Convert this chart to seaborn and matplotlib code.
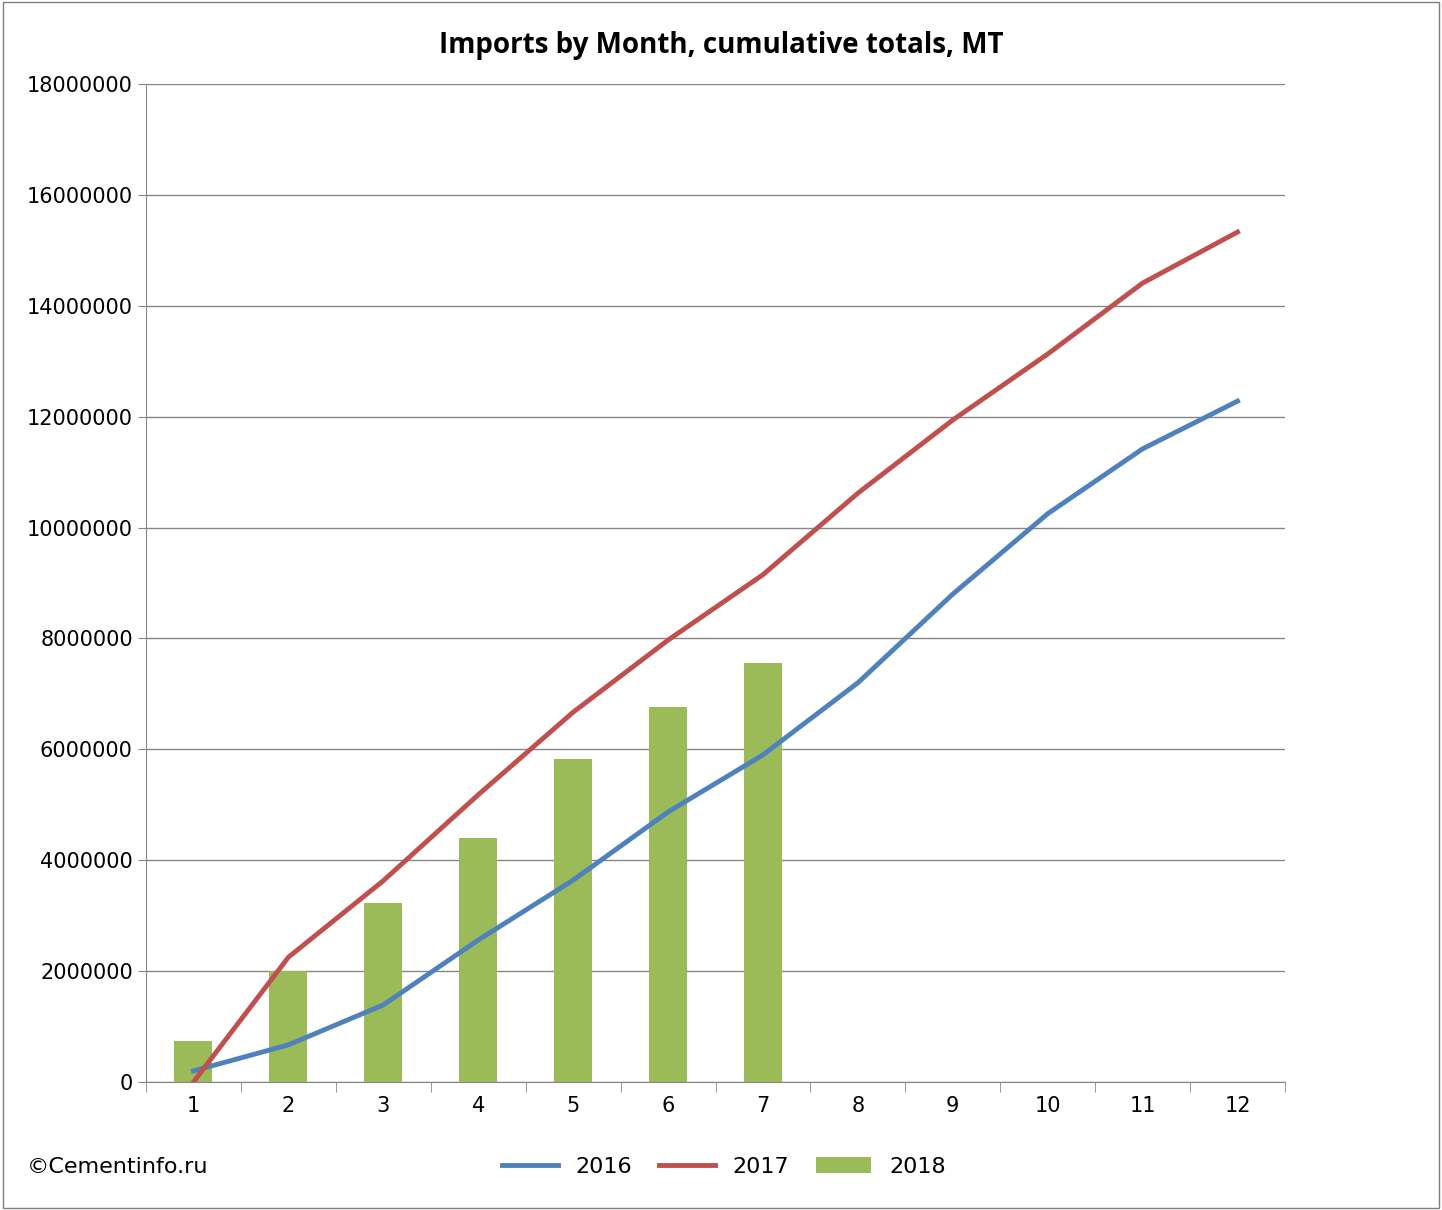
import matplotlib
matplotlib.use("Agg")
import matplotlib.pyplot as plt
import seaborn as sns
import pandas as pd
import numpy as np

months = list(range(1, 13))
imports_2018 = [740000, 2000000, 3230000, 4400000, 5830000, 6760000, 7560000]
imports_2016 = [200000, 670000, 1390000, 2560000, 3640000, 4870000, 5900000, 7200000, 8800000, 10250000, 11420000, 12280000]
imports_2017 = [0, 2250000, 3630000, 5180000, 6670000, 7970000, 9150000, 10620000, 11940000, 13130000, 14410000, 15330000]

fig = plt.figure(figsize=(14.42, 12.10), dpi=100)
ax = fig.add_axes([146/1442, 1-1082/1210, (1285-146)/1442, (1082-84)/1210])
fig.patches.append(plt.Rectangle((0.002, 0.002), 0.996, 0.996, transform=fig.transFigure,
                                 fill=False, edgecolor="#7f7f7f", linewidth=1))

df18 = pd.DataFrame({"m": np.arange(len(imports_2018)), "v": imports_2018})
sns.barplot(data=df18, x="m", y="v", ax=ax, color="#9BBB59", width=0.4, saturation=1,
            order=list(range(12)), label="2018")
idx = np.arange(12)
sns.lineplot(x=idx, y=imports_2016, ax=ax, color="#4F81BD", linewidth=3.5, label="2016")
sns.lineplot(x=idx, y=imports_2017, ax=ax, color="#C0504D", linewidth=3.5, label="2017")

ax.set_xlim(-0.5, 11.5)
ax.set_ylim(0, 18000000)
ax.set_yticks(range(0, 18000001, 2000000))
ax.set_yticklabels([str(v) for v in range(0, 18000001, 2000000)], fontsize=15)
ax.set_xticks(idx)
ax.set_xticklabels([str(m) for m in months], fontsize=15)
ax.set_xticks(np.arange(-0.5, 12, 1), minor=True)
ax.tick_params(axis="x", which="major", length=0, pad=10)
ax.tick_params(axis="x", which="minor", length=7, color="#868686")
ax.tick_params(axis="y", length=6, color="#868686")
ax.set_xlabel("")
ax.set_ylabel("")
ax.grid(axis="y", color="#868686", linewidth=1)
ax.set_axisbelow(True)
for s in ["top", "right"]:
    ax.spines[s].set_visible(False)
for s in ["left", "bottom"]:
    ax.spines[s].set_color("#868686")

fig.text(0.5, 1-46/1210, "Imports by Month, cumulative totals, MT", ha="center", va="center",
         fontsize=20, fontweight="bold", family="Open Sans")
fig.text(27/1442, 1-1167/1210, "©Cementinfo.ru", ha="left", va="center", fontsize=16)
ax.legend(loc="center", bbox_to_anchor=(724/1442, 1-1167/1210), bbox_transform=fig.transFigure,
          ncol=3, frameon=False, fontsize=16, handlelength=2.5, columnspacing=1.2)

fig.savefig("out.png", dpi=100)
